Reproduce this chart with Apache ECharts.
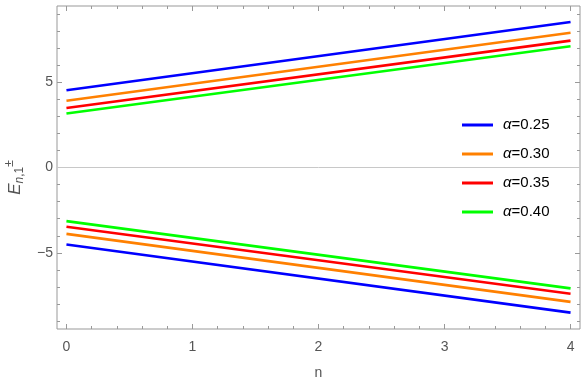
<!DOCTYPE html>
<html>
<head>
<meta charset="utf-8">
<script src="https://cdn.jsdelivr.net/npm/echarts@6/dist/echarts.min.js"></script>
<style>
html,body{margin:0;padding:0;background:#fff;}
#chart{width:588px;height:382px;}
</style>
</head>
<body>
<div id="chart"></div>
<script>
// data
const alphas = ["0.25", "0.30", "0.35", "0.40"];
const colors = ["#0000ff", "#ff8000", "#ff0000", "#00ff00"];
const nValues = [0, 4];

const upper025 = [4.53, 8.52];
const upper030 = [3.91, 7.89];
const upper035 = [3.49, 7.43];
const upper040 = [3.16, 7.10];

const lower025 = [-4.51, -8.50];
const lower030 = [-3.89, -7.87];
const lower035 = [-3.47, -7.40];
const lower040 = [-3.14, -7.08];

const xMajor = [0, 1, 2, 3, 4];
const xMinor = [0.2, 0.4, 0.6, 0.8, 1.2, 1.4, 1.6, 1.8, 2.2, 2.4, 2.6, 2.8, 3.2, 3.4, 3.6, 3.8];
const yMajor = [-5, 0, 5];
const yMinor = [-9, -8, -7, -6, -4, -3, -2, -1, 1, 2, 3, 4, 6, 7, 8, 9];

const upper = [upper025, upper030, upper035, upper040];
const lower = [lower025, lower030, lower035, lower040];

const X_MIN = -0.075, X_MAX = 4.075;
const Y_MIN = -9.46, Y_MAX = 9.46;
const FRAME = "#999999";
const FONT = "Liberation Sans, Arial, sans-serif";

function pairs(ys){
    return nValues.map((n, i) => [n, ys[i]]);
}

function tickAxis(kind, pos, values, len){
    return {
        type: "value",
        position: pos,
        min: kind === "x" ? X_MIN : Y_MIN,
        max: kind === "x" ? X_MAX : Y_MAX,
        axisLine: {show: false, onZero: false},
        splitLine: {show: false},
        axisLabel: {show: false},
        axisTick: {
            show: true,
            inside: true,
            length: len,
            customValues: values,
            lineStyle: {color: FRAME, width: 1}
        }
    };
}

const series = [];
alphas.forEach((a, i) => {
    [upper[i], lower[i]].forEach((ys, k) => {
        const s = {
            name: "α=" + a,
            type: "line",
            xAxisIndex: 0,
            yAxisIndex: 0,
            data: pairs(ys),
            symbol: "none",
            lineStyle: {color: colors[i], width: 2.6},
            itemStyle: {color: colors[i]},
            z: 3
        };
        if (i === 0 && k === 0) {
            s.markLine = {
                silent: true,
                symbol: "none",
                label: {show: false},
                lineStyle: {color: "#c8c8c8", width: 1, type: "solid"},
                data: [{yAxis: 0}]
            };
        }
        series.push(s);
    });
});

const xMain = tickAxis("x", "bottom", xMajor, 5);
xMain.axisLabel = {
    show: true,
    customValues: xMajor,
    margin: 11,
    color: "#555",
    fontSize: 14,
    fontFamily: FONT
};
xMain.name = "n";
xMain.nameLocation = "middle";
xMain.nameGap = 37;
xMain.nameTextStyle = {color: "#555", fontSize: 14, fontFamily: FONT};

const yMain = tickAxis("y", "left", yMajor, 5);
yMain.axisLabel = {
    show: true,
    customValues: yMajor,
    margin: 4,
    color: "#555",
    fontSize: 14,
    fontFamily: FONT,
    formatter: v => String(v).replace("-", "\u2212")
};
yMain.name = "{e|E}{n|n}{c|,1}{p|±}";
yMain.nameLocation = "middle";
yMain.nameRotate = 90;
yMain.nameGap = 26;
yMain.nameTextStyle = {
    color: "#555",
    fontFamily: FONT,
    padding: [0, 20, 0, 0],
    rich: {
        e: {fontSize: 17, fontStyle: "italic", color: "#555", fontFamily: FONT, lineHeight: 22, verticalAlign: "middle"},
        n: {fontSize: 12, fontStyle: "italic", color: "#555", fontFamily: FONT, lineHeight: 22, verticalAlign: "bottom"},
        c: {fontSize: 12, color: "#555", fontFamily: FONT, lineHeight: 22, verticalAlign: "bottom"},
        p: {fontSize: 12, color: "#555", fontFamily: FONT, lineHeight: 22, verticalAlign: "top"}
    }
};

// one legend box per entry so each row sits where the reference has it
const legendRowY = [125, 154, 183, 212];
const legends = alphas.map((a, i) => ({
    orient: "vertical",
    left: 462,
    top: legendRowY[i] - 8,
    padding: 0,
    icon: "rect",
    itemWidth: 31,
    itemHeight: 3,
    data: ["α=" + a],
    formatter: name => "{a|α}" + name.slice(1),
    textStyle: {
        color: "#000",
        fontSize: 15,
        lineHeight: 16,
        fontFamily: FONT,
        padding: [0, 0, 0, 5],
        rich: {
            a: {fontStyle: "italic", fontSize: 15, lineHeight: 16, fontFamily: FONT, color: "#000"}
        }
    }
}));

const chart = echarts.init(document.getElementById("chart"), null, {renderer: "canvas"});

chart.setOption({
    animation: false,
    backgroundColor: "#fff",
    grid: {
        left: 57, right: 8, top: 6, bottom: 53,
        outerBoundsMode: "none",
        containLabel: false,
        show: true,
        borderColor: FRAME,
        borderWidth: 1,
        backgroundColor: "transparent"
    },
    legend: legends,
    xAxis: [
        xMain,
        tickAxis("x", "bottom", xMinor, 3),
        tickAxis("x", "top", xMajor, 5),
        tickAxis("x", "top", xMinor, 3)
    ],
    yAxis: [
        yMain,
        tickAxis("y", "left", yMinor, 3),
        tickAxis("y", "right", yMajor, 5),
        tickAxis("y", "right", yMinor, 3)
    ],
    series: series
});
</script>
</body>
</html>
